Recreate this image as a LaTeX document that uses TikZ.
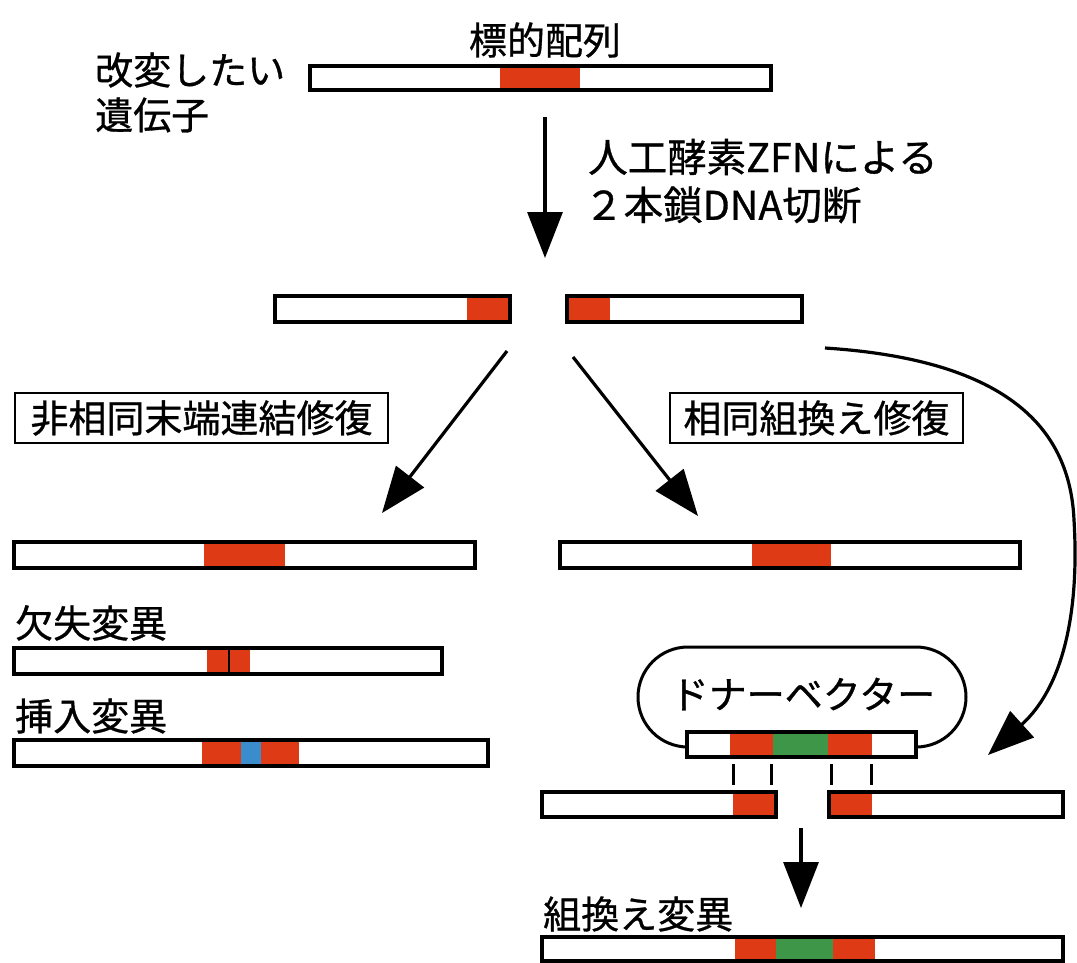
\documentclass[tikz,border=0pt]{standalone}
\usepackage{fontspec}
\setmainfont{Noto Sans CJK JP}[FakeBold=0.8]
\usetikzlibrary{arrows.meta}
\definecolor{dnared}{RGB}{222,58,22}
\definecolor{dnagreen}{RGB}{62,150,72}
\definecolor{dnablue}{RGB}{58,140,205}
\tikzset{
  lbl/.style={inner sep=0pt, font=\fontsize{38}{42}\selectfont},
  boxlbl/.style={draw, line width=2.5pt, inner sep=0pt, minimum height=50pt, font=\fontsize{38}{42}\selectfont},
  arr/.style={line width=3.2pt, -{Triangle[length=46pt,width=35pt]}},
  barline/.style={line width=3.5pt},
  tick/.style={line width=3pt},
}
\newcommand\dnaseg[5]{\fill[#5] (#1,#3) rectangle (#2,#4);}
\newcommand\dnaframe[4]{\fill[white] (#1,#3) rectangle (#2,#4);}
\newcommand\dnaborder[4]{\draw[barline] (#1,#3) rectangle (#2,#4);}
\begin{document}
\begin{tikzpicture}[x=1pt,y=-1pt]
\useasboundingbox (0,0) rectangle (1077,962);
\fill[white] (0,0) rectangle (1077,962);

% labels
\node[lbl] (target) at (545,40) {標的配列};
\node[lbl, anchor=west] (gene1) at (95,70) {改変したい};
\node[lbl, anchor=west] (gene2) at (95,115) {遺伝子};
\node[lbl, anchor=west, font=\fontsize{39.5}{42}\selectfont] (zfn1) at (588,157) {人工酵素ZFNによる};
\node[lbl, anchor=west, font=\fontsize{39.5}{42}\selectfont] (zfn2) at (584,205) {２本鎖DNA切断};
\node[boxlbl, minimum width=373pt] (nhej) at (201.5,418) {非相同末端連結修復};
\node[boxlbl, minimum width=293pt] (hr) at (816.5,418) {相同組換え修復};
\node[lbl, anchor=west] (del) at (15,623) {欠失変異};
\node[lbl, anchor=west] (ins) at (15,716) {挿入変異};
\node[lbl, anchor=west] (rec) at (543,914) {組換え変異};

% top bar
\dnaframe{310}{771}{66}{90}
\dnaseg{500}{580}{66}{90}{dnared}
\dnaborder{310}{771}{66}{90}

% cut bars
\dnaframe{275}{510}{296}{322}
\dnaseg{467}{510}{296}{322}{dnared}
\dnaborder{275}{510}{296}{322}
\dnaframe{567}{802}{296}{322}
\dnaseg{567}{610}{296}{322}{dnared}
\dnaborder{567}{802}{296}{322}

% NHEJ result
\dnaframe{14}{475}{542}{568}
\dnaseg{204}{285}{542}{568}{dnared}
\dnaborder{14}{475}{542}{568}

% HR result
\dnaframe{560}{1020}{542}{568}
\dnaseg{752}{831}{542}{568}{dnared}
\dnaborder{560}{1020}{542}{568}

% deletion
\dnaframe{14}{442}{648}{674}
\dnaseg{207}{250}{648}{674}{dnared}
\draw[line width=2.8pt] (229,648) -- (229,674);
\dnaborder{14}{442}{648}{674}

% insertion
\dnaframe{14}{488}{740}{766}
\dnaseg{202}{241}{740}{766}{dnared}
\dnaseg{241}{261}{740}{766}{dnablue}
\dnaseg{261}{299}{740}{766}{dnared}
\dnaborder{14}{488}{740}{766}

% donor vector loop
\draw[line width=3pt] (916,747) arc[start angle=90, end angle=-90, radius=50]
  -- (688,647) arc[start angle=-90, end angle=-270, radius=50];
\node[lbl] (donor) at (803,694) {ドナーベクター};
\dnaframe{687}{916}{732}{757}
\dnaseg{730}{773}{732}{757}{dnared}
\dnaseg{773}{828}{732}{757}{dnagreen}
\dnaseg{828}{872}{732}{757}{dnared}
\dnaborder{687}{916}{732}{757}

% homology ticks
\draw[tick] (733,764) -- (733,785);
\draw[tick] (771,764) -- (771,785);
\draw[tick] (831,764) -- (831,785);
\draw[tick] (871,764) -- (871,785);

% lower cut bars
\dnaframe{542}{776}{792}{817}
\dnaseg{733}{776}{792}{817}{dnared}
\dnaborder{542}{776}{792}{817}
\dnaframe{829}{1063}{792}{817}
\dnaseg{829}{872}{792}{817}{dnared}
\dnaborder{829}{1063}{792}{817}

% final bar
\dnaframe{542}{1063}{937}{961}
\dnaseg{735}{776}{937}{961}{dnared}
\dnaseg{776}{833}{937}{961}{dnagreen}
\dnaseg{833}{875}{937}{961}{dnared}
\dnaborder{542}{1063}{937}{961}

% arrow end points
\coordinate (m1) at (545,117);
\coordinate (m2) at (545,258);
\coordinate (l1) at (507,351);
\coordinate (l2) at (382,513);
\coordinate (r1) at (573,357);
\coordinate (r2) at (698,516);
\coordinate (c1) at (825,348);
\coordinate (cmid) at (1074,520);
\coordinate (c2) at (988,755);
\coordinate (d1) at (801,828);
\coordinate (d2) at (801,908);

\draw[arr] (m1) -- (m2);
\draw[arr] (l1) -- (l2);
\draw[arr] (r1) -- (r2);
\draw[arr] (c1) .. controls (1010,360) and (1070,430) .. (cmid)
  .. controls (1080,620) and (1060,690) .. (c2);
\draw[arr] (d1) -- (d2);
\end{tikzpicture}
\end{document}
